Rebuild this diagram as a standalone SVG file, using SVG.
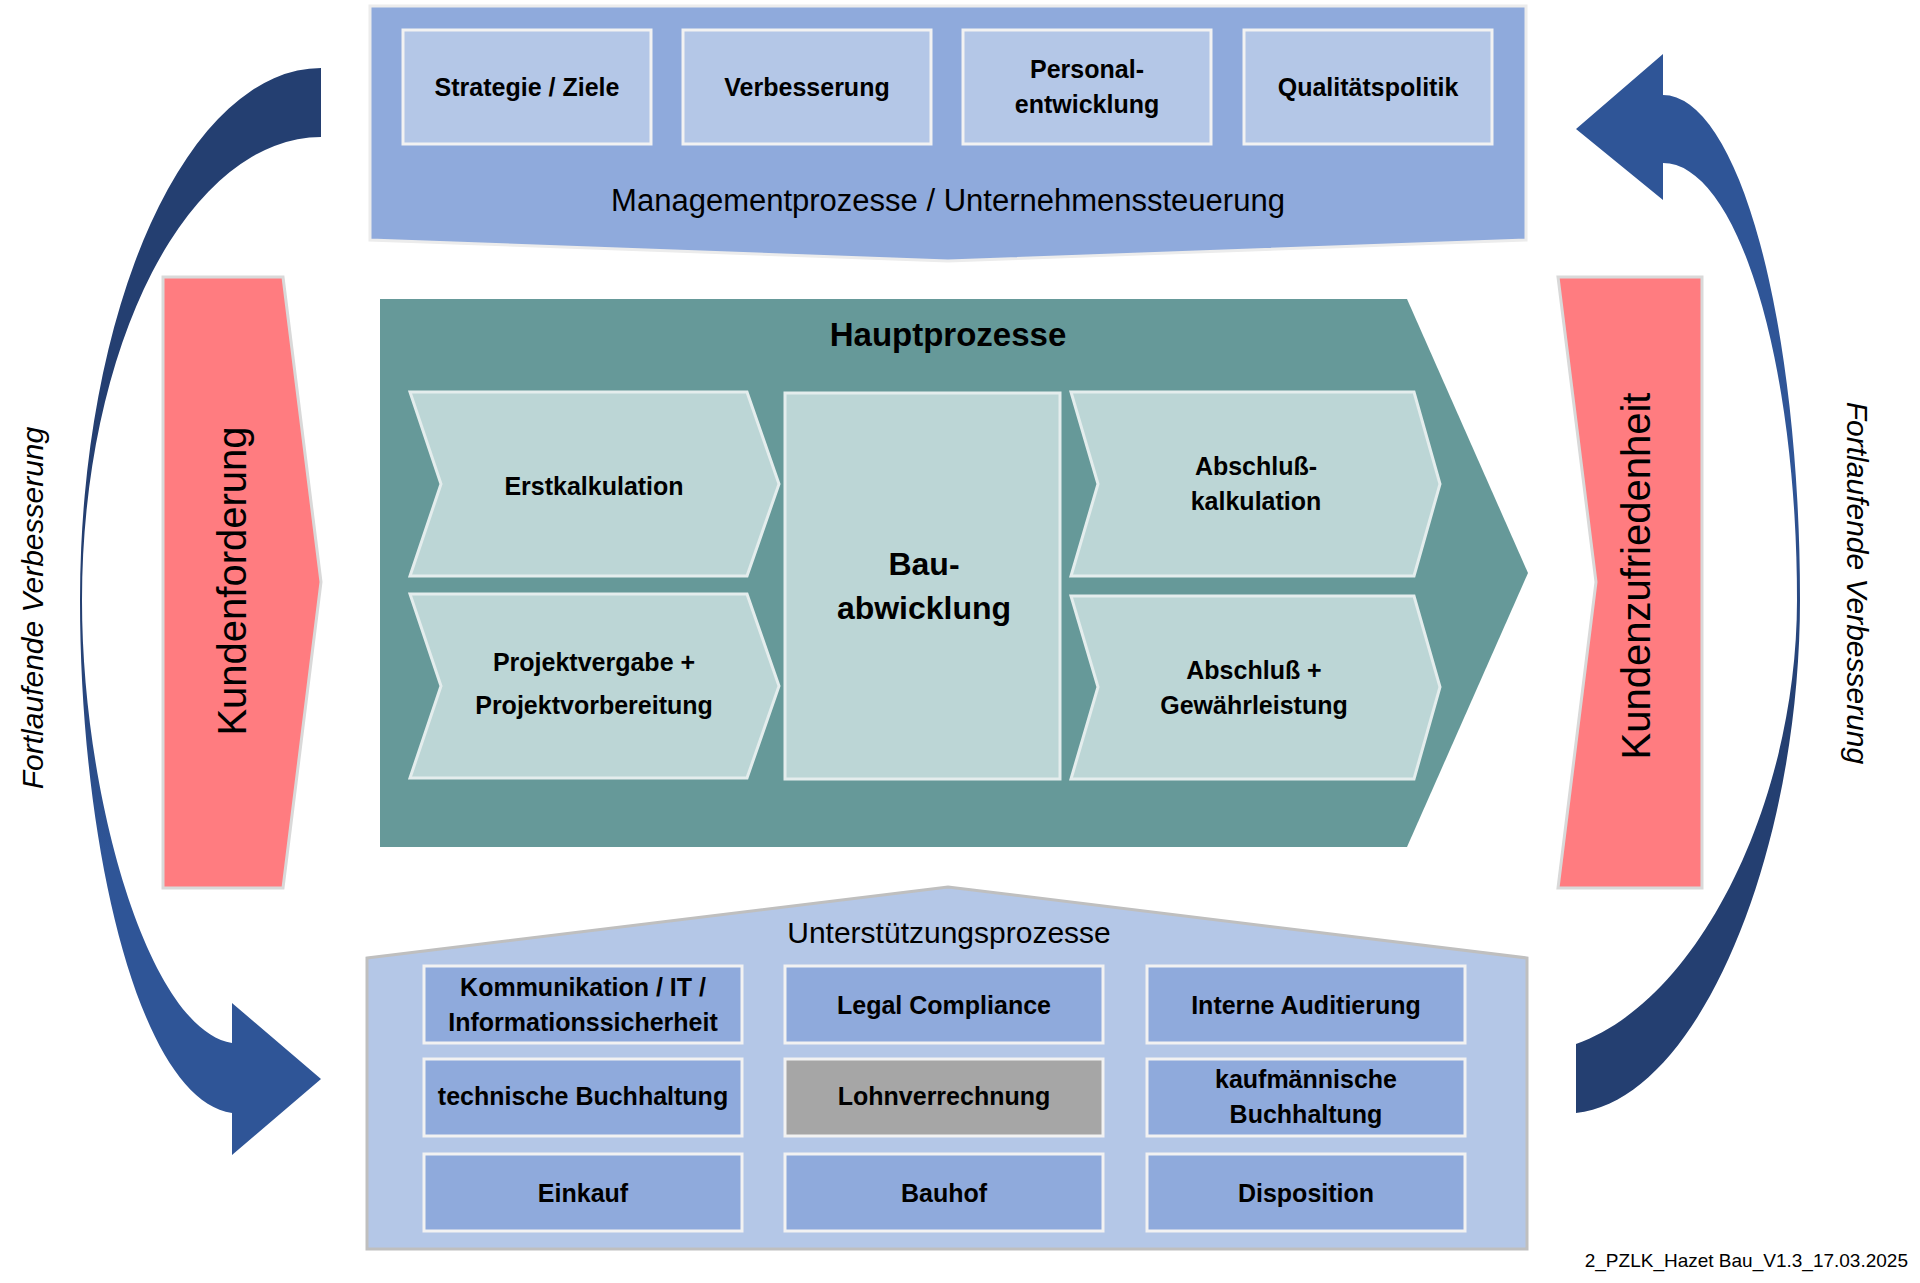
<svg xmlns="http://www.w3.org/2000/svg" width="1920" height="1283" viewBox="0 0 1920 1283">
<defs>
<linearGradient id="gradL" gradientUnits="userSpaceOnUse" x1="0" y1="68" x2="0" y2="1155">
<stop offset="0" stop-color="#243f71"/><stop offset="0.5" stop-color="#243f71"/><stop offset="0.72" stop-color="#2f5597"/><stop offset="1" stop-color="#2f5597"/>
</linearGradient>
<linearGradient id="gradR" gradientUnits="userSpaceOnUse" x1="0" y1="54" x2="0" y2="1113">
<stop offset="0" stop-color="#2f5597"/><stop offset="0.4" stop-color="#2f5597"/><stop offset="0.62" stop-color="#243f71"/><stop offset="1" stop-color="#243f71"/>
</linearGradient>
<style>
.t{font-family:"Liberation Sans",Arial,sans-serif;fill:#000;text-anchor:middle}
.b{font-weight:bold;font-size:25px}
.big{font-size:30px}
.rot{font-size:40px}
.it{font-style:italic;font-size:30px}
.mgmtBox{fill:#b4c7e7;stroke:#f2f2f2;stroke-width:3}
.supBox{fill:#8faadc;stroke:#f2f2f2;stroke-width:3}
.chev{fill:#bcd6d6;stroke:#e4eded;stroke-width:3}
.pink{fill:#ff7c80;stroke:#d9d9d9;stroke-width:3}
</style>
</defs>
<rect width="1920" height="1283" fill="#fff"/>

<g id="connectors">
<path id="arrow-left" fill="url(#gradL)" d="M321,68 A241,532 0 0 0 80,600 C80,850 140,1100 232,1113 L232,1155 L321,1079 L232,1003 L232,1043 C150,1030 82,800 82,600 A239,463 0 0 1 321,137 Z"/>
<path id="arrow-right" fill="url(#gradR)" d="M1576,129 L1663,54 L1663,95 A137,505 0 0 1 1800,600 C1800,850 1700,1100 1576,1113 L1576,1044 C1700,1000 1797,800 1797,600 A134,437 0 0 0 1663,163 L1663,200 Z"/>
</g>

<g id="management">
<polygon points="370,6 1526,6 1526,240 948,261 370,240" fill="#8faadc" stroke="#ececec" stroke-width="3"/>
<text class="t" font-size="31" x="948" y="211">Managementprozesse / Unternehmenssteuerung</text>
</g>
<g id="m-strategie"><rect class="mgmtBox" x="403" y="30" width="248" height="114"/><text class="t b" x="527" y="96">Strategie / Ziele</text></g>
<g id="m-verbesserung"><rect class="mgmtBox" x="683" y="30" width="248" height="114"/><text class="t b" x="807" y="96">Verbesserung</text></g>
<g id="m-personal"><rect class="mgmtBox" x="963" y="30" width="248" height="114"/><text class="t b" x="1087" y="78">Personal-</text><text class="t b" x="1087" y="113">entwicklung</text></g>
<g id="m-qualitaet"><rect class="mgmtBox" x="1244" y="30" width="248" height="114"/><text class="t b" x="1368" y="96">Qualitätspolitik</text></g>

<g id="kundenforderung">
<polygon class="pink" points="163,277 283,277 321,582 283,888 163,888"/>
<text class="t rot" transform="translate(246,581) rotate(-90)">Kundenforderung</text>
</g>
<g id="kundenzufriedenheit">
<polygon class="pink" points="1558,277 1702,277 1702,888 1558,888 1596,582"/>
<text class="t rot" transform="translate(1650,576) rotate(-90)">Kundenzufriedenheit</text>
</g>

<g id="label-left"><text class="t it" transform="translate(43,608) rotate(-90)">Fortlaufende Verbesserung</text></g>
<g id="label-right"><text class="t it" transform="translate(1847,583) rotate(90)">Fortlaufende Verbesserung</text></g>

<g id="hauptprozesse">
<polygon points="380,299 1407,299 1528,573 1407,847 380,847" fill="#669999"/>
<text class="t" x="948" y="346" font-weight="bold" font-size="33">Hauptprozesse</text>
</g>
<g id="h-erstkalkulation"><polygon class="chev" points="410,392 747,392 779,484 747,576 410,576 441,484"/><text class="t b" x="594" y="495">Erstkalkulation</text></g>
<g id="h-projekt"><polygon class="chev" points="410,594 747,594 779,686 747,778 410,778 441,686"/><text class="t b" x="594" y="671">Projektvergabe +</text><text class="t b" x="594" y="714">Projektvorbereitung</text></g>
<g id="h-bau"><rect class="chev" x="785" y="393" width="275" height="386"/><text class="t" font-weight="bold" font-size="32" x="924" y="575">Bau-</text><text class="t" font-weight="bold" font-size="32" x="924" y="619">abwicklung</text></g>
<g id="h-abschlusskalk"><polygon class="chev" points="1071,392 1414,392 1440,484 1414,576 1071,576 1098,484"/><text class="t b" x="1256" y="475">Abschluß-</text><text class="t b" x="1256" y="510">kalkulation</text></g>
<g id="h-abschluss"><polygon class="chev" points="1071,596 1414,596 1440,687 1414,779 1071,779 1098,687"/><text class="t b" x="1254" y="679">Abschluß +</text><text class="t b" x="1254" y="714">Gewährleistung</text></g>

<g id="unterstuetzung">
<polygon points="367,958 948,887 1527,958 1527,1249 367,1249" fill="#b4c7e7" stroke="#bfbfbf" stroke-width="3"/>
<text class="t big" x="949" y="943">Unterstützungsprozesse</text>
</g>
<g id="s-kommunikation"><rect class="supBox" x="424" y="966" width="318" height="77"/><text class="t b" x="583" y="996">Kommunikation / IT /</text><text class="t b" x="583" y="1031">Informationssicherheit</text></g>
<g id="s-legal"><rect class="supBox" x="785" y="966" width="318" height="77"/><text class="t b" x="944" y="1014">Legal Compliance</text></g>
<g id="s-audit"><rect class="supBox" x="1147" y="966" width="318" height="77"/><text class="t b" x="1306" y="1014">Interne Auditierung</text></g>
<g id="s-technisch"><rect class="supBox" x="424" y="1059" width="318" height="77"/><text class="t b" x="583" y="1105">technische Buchhaltung</text></g>
<g id="s-lohn"><rect class="supBox" x="785" y="1059" width="318" height="77" style="fill:#a6a6a6"/><text class="t b" x="944" y="1105">Lohnverrechnung</text></g>
<g id="s-kaufm"><rect class="supBox" x="1147" y="1059" width="318" height="77"/><text class="t b" x="1306" y="1088">kaufmännische</text><text class="t b" x="1306" y="1123">Buchhaltung</text></g>
<g id="s-einkauf"><rect class="supBox" x="424" y="1154" width="318" height="77"/><text class="t b" x="583" y="1202">Einkauf</text></g>
<g id="s-bauhof"><rect class="supBox" x="785" y="1154" width="318" height="77"/><text class="t b" x="944" y="1202">Bauhof</text></g>
<g id="s-disposition"><rect class="supBox" x="1147" y="1154" width="318" height="77"/><text class="t b" x="1306" y="1202">Disposition</text></g>

<g id="footer"><text class="t" x="1908" y="1267" font-size="19" style="text-anchor:end">2_PZLK_Hazet Bau_V1.3_17.03.2025</text></g>
</svg>
